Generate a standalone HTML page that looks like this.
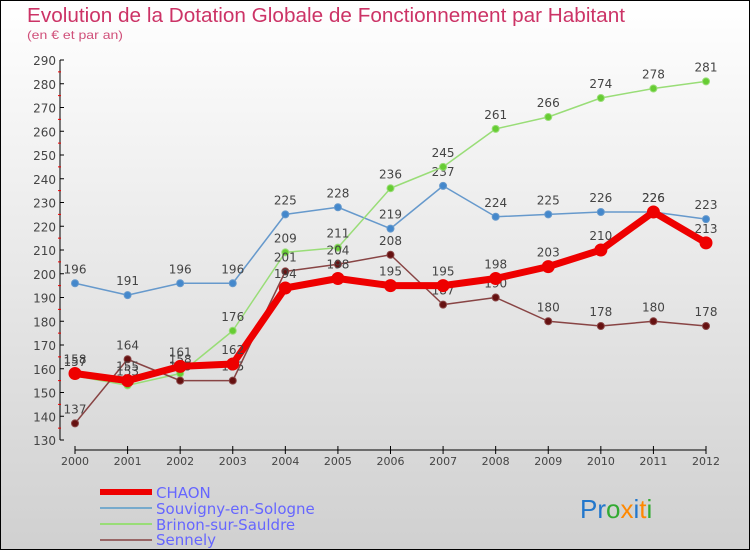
<!DOCTYPE html>
<html><head><meta charset="utf-8"><style>
body{margin:0}
svg{display:block;font-family:"DejaVu Sans","Liberation Sans",sans-serif}
</style></head><body>
<svg id="c" width="750" height="550">
<defs><linearGradient id="bg" x1="0" y1="0" x2="0" y2="1"><stop offset="0" stop-color="#ffffff"/><stop offset="1" stop-color="#d0d0d0"/></linearGradient></defs>
<rect x="0.5" y="0.5" width="749" height="549" fill="url(#bg)" stroke="#000"/>
<text x="27" y="22" font-size="20" fill="#cc3366" textLength="598" lengthAdjust="spacingAndGlyphs" font-family="Liberation Sans">Evolution de la Dotation Globale de Fonctionnement par Habitant</text>
<text x="27" y="39" font-size="12" fill="#d0507a" textLength="96" lengthAdjust="spacingAndGlyphs" font-family="Liberation Sans">(en € et par an)</text>
<g id="axes"></g><g id="series"></g>
<g>
<line x1="100" y1="492" x2="152" y2="492" stroke="#ee0000" stroke-width="6"/>
<text x="156" y="498" font-size="15" fill="#6666ff">CHAON</text>
<line x1="100" y1="508" x2="152" y2="508" stroke="#77aacc" stroke-width="2"/>
<text x="156" y="514" font-size="15" fill="#6666ff">Souvigny-en-Sologne</text>
<line x1="100" y1="524" x2="152" y2="524" stroke="#99dd77" stroke-width="2"/>
<text x="156" y="530" font-size="15" fill="#6666ff">Brinon-sur-Sauldre</text>
<line x1="100" y1="540" x2="152" y2="540" stroke="#996666" stroke-width="2"/>
<text x="156" y="545" font-size="15" fill="#6666ff">Sennely</text>
</g>
<text x="580" y="518" font-size="26" font-family="Liberation Sans"><tspan fill="#2277cc">Pr</tspan><tspan fill="#33aa33">o</tspan><tspan fill="#ff8800">x</tspan><tspan fill="#2277cc">i</tspan><tspan fill="#ff8800">t</tspan><tspan fill="#33aa33">i</tspan></text>
</svg>
<script>
const years=[2000,2001,2002,2003,2004,2005,2006,2007,2008,2009,2010,2011,2012];
const chaon=[158,155,161,162,194,198,195,195,198,203,210,226,213];
const souvigny=[196,191,196,196,225,228,219,237,224,225,226,226,223];
const brinon=[157,153,158,176,209,211,236,245,261,266,274,278,281];
const sennely=[137,164,155,155,201,204,208,187,190,180,178,180,178];
const yTicks=[130,140,150,160,170,180,190,200,210,220,230,240,250,260,270,280,290];
const NS="http://www.w3.org/2000/svg";
const x=i=>75+i*(706-75)/(years.length-1);
const y=v=>440-(v-130)*(380/160);
function mk(t,a,p){const e=document.createElementNS(NS,t);for(const k in a)e.setAttribute(k,a[k]);p.appendChild(e);return e;}
const ax=document.getElementById('axes');
let l=mk('line',{x1:60,y1:60,x2:60,y2:440,stroke:'#000'},ax);


yTicks.forEach(v=>{
 mk('line',{x1:60,y1:y(v),x2:64,y2:y(v),stroke:'#000'},ax);
 if(v<290)mk('line',{x1:58,y1:y(v+5),x2:61,y2:y(v+5),stroke:'#e00'},ax);
 const t=mk('text',{x:56,y:y(v)+5,'font-size':12,fill:'#444','text-anchor':'end'},ax);t.textContent=v;
 
 
});
l=mk('line',{x1:75,y1:450,x2:706,y2:450,stroke:'#000'},ax);


years.forEach((yr,i)=>{
 mk('line',{x1:x(i),y1:446,x2:x(i),y2:454,stroke:'#000'},ax);
 const t=mk('text',{x:x(i),y:465,'font-size':11,fill:'#444','text-anchor':'middle'},ax);t.textContent=yr;
 
 
});
const sg=document.getElementById('series');
function draw(d,col,w,r,name,dot){
 const g=mk('g',{},sg);
 
 
 const p=mk('polyline',{points:d.map((v,i)=>x(i)+','+y(v)).join(' '),fill:'none',stroke:col,'stroke-width':w,'stroke-linejoin':'round'},g);
 
 
 d.forEach((v,i)=>{
  const c=mk('circle',{cx:x(i),cy:y(v),r:r,fill:dot,stroke:col,'stroke-width':1},g);
  
  
  const t=mk('text',{x:x(i),y:y(v)-10,'font-size':12,fill:'#444','text-anchor':'middle'},g);t.textContent=v;
  
  
 });
}
draw(souvigny,'#6699cc',1.5,3.5,'souvigny','#4488cc');
draw(brinon,'#99dd77',1.5,3.5,'brinon','#66cc33');
draw(sennely,'#884444',1.5,3.5,'sennely','#661111');
draw(chaon,'#ee0000',7,6,'chaon','#ee0000');
</script>
</body></html>
